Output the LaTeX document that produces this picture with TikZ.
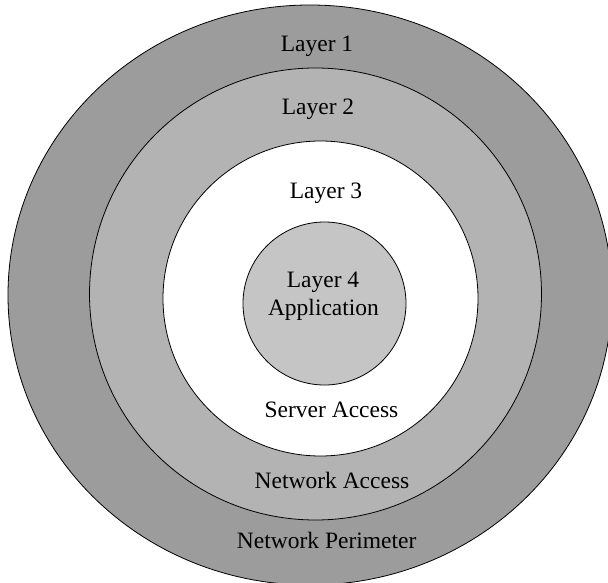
\documentclass[tikz,border=0pt]{standalone}
\usepackage{fontspec}
\setmainfont{Liberation Serif}
\definecolor{ringouter}{HTML}{9C9C9C}
\definecolor{ringmid}{HTML}{B3B3B3}
\definecolor{ringinner}{HTML}{C5C5C5}
\begin{document}
\begin{tikzpicture}[x=1pt, y=-1pt,
  ring/.style={draw=black, line width=0.8pt},
  lbl/.style={anchor=base, inner sep=0pt, text=black,
              font=\fontsize{23.5}{28}\selectfont}]
  \useasboundingbox (0,0) rectangle (608,583);
  \clip (0,0) rectangle (608,583);
  \fill[white] (0,0) rectangle (608,583);
  % nested security layers
  \draw[ring, fill=ringouter] (310,295) ellipse [x radius=302pt, y radius=290pt];
  \draw[ring, fill=ringmid]   (315.5,294) circle [radius=226pt];
  \draw[ring, fill=white]     (320.5,298.5) circle [radius=157.5pt];
  \draw[ring, fill=ringinner] (324.5,303.5) circle [radius=81.5pt];
  % labels
  \node[lbl] (l1)   at (317,52)    {Layer 1};
  \node[lbl] (l2)   at (318,115)   {Layer 2};
  \node[lbl] (l3)   at (326,198)   {Layer 3};
  \node[lbl] (l4)   at (323,287)   {Layer 4};
  \node[lbl] (app)  at (323.5,315) {Application};
  \node[lbl] (srv)  at (331.5,417) {Server Access};
  \node[lbl] (net)  at (332,488)   {Network Access};
  \node[lbl] (per)  at (326.7,548) {Network Perimeter};
\end{tikzpicture}
\end{document}
